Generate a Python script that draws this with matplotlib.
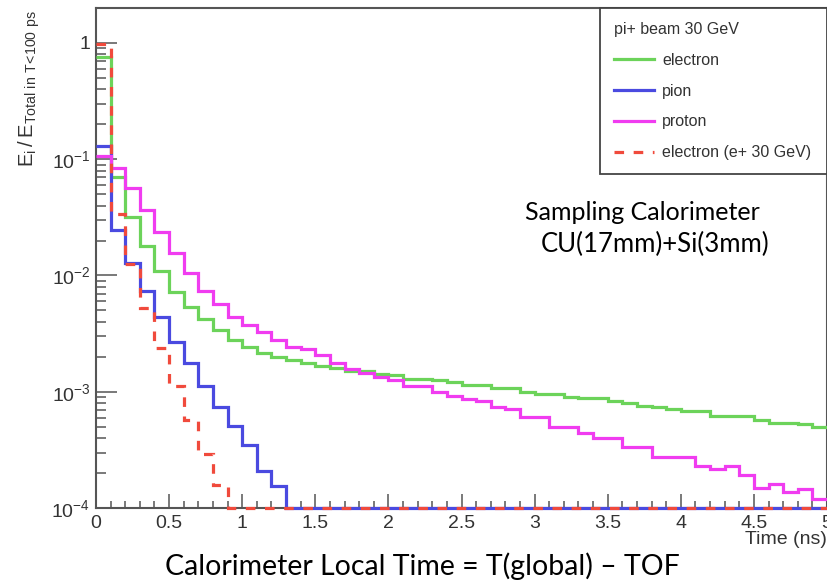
import numpy as np
import matplotlib
matplotlib.use("Agg")
import matplotlib.pyplot as plt
from matplotlib.ticker import LogLocator, MultipleLocator, NullFormatter, FuncFormatter

# energy fraction per 0.1 ns time bin, 0 - 5 ns
t_min, t_max, n_bins = 0.0, 5.0, 50

electron = [0.76, 0.0708, 0.032, 0.018, 0.011, 0.00725, 0.00532, 0.0042, 0.0034, 0.00279,
            0.00245, 0.00214, 0.00198, 0.00188, 0.00176, 0.00166, 0.00159, 0.00152, 0.00152, 0.00142,
            0.00139, 0.0013, 0.0013, 0.00126, 0.00121, 0.00114, 0.00114, 0.00107, 0.00107, 0.001,
            0.00095, 0.00095, 0.000906, 0.000879, 0.000879, 0.00084, 0.000795, 0.000754, 0.000735, 0.00071,
            0.000683, 0.000683, 0.000617, 0.000617, 0.000617, 0.000571, 0.000542, 0.000542, 0.000527, 0.0005]

pion = [0.13, 0.0246, 0.0129, 0.0074, 0.0044, 0.0027, 0.00176, 0.00112, 0.000744, 0.000507,
        0.000348, 0.000209, 0.000155] + [0.0] * 37

proton = [0.107, 0.0836, 0.0563, 0.0366, 0.0238, 0.0155, 0.0106, 0.0074, 0.00569, 0.00436,
          0.00375, 0.00329, 0.00279, 0.00245, 0.00232, 0.00207, 0.00176, 0.00156, 0.00146, 0.00133,
          0.00126, 0.00112, 0.00112, 0.001, 0.000924, 0.00086, 0.000837, 0.00074, 0.00071, 0.000603,
          0.000603, 0.0005, 0.000494, 0.000444, 0.000398, 0.000398, 0.000337, 0.000337, 0.000276, 0.000273,
          0.000275, 0.00023, 0.000215, 0.00023, 0.000192, 0.000148, 0.000161, 0.000138, 0.000145, 0.000119]

# electron response for a 30 GeV e+ beam
electron_ebeam = [0.98, 0.0338, 0.0125, 0.0053, 0.00237, 0.00112, 0.000571, 0.000292, 0.000158] + [0.0] * 41

Y_MIN, Y_MAX = 1e-4, 2.0

plt.rcParams['font.family'] = ['Liberation Sans', 'DejaVu Sans']
plt.rcParams['mathtext.fontset'] = 'custom'
plt.rcParams['mathtext.rm'] = 'Liberation Sans'

fig = plt.figure(figsize=(8.28, 5.83), dpi=100)
ax = fig.add_axes([96 / 828, 1 - 508 / 583, (827 - 96) / 828, (508 - 8) / 583])

edges = np.linspace(t_min, t_max, n_bins + 1)

def floor(vals):
    # empty bins sit on the axis minimum, as ROOT draws them
    v = np.asarray(vals, dtype=float)
    return np.where(v > 0, v, Y_MIN)

series = [
    (electron, '#6cd35a', '-', 'electron'),
    (pion, '#4a4ae0', '-', 'pion'),
    (proton, '#f03cf0', '-', 'proton'),
    (electron_ebeam, '#f04a3c', (0, (3, 3)), 'electron (e+ 30 GeV)'),
]
handles = []
for vals, col, ls, lab in series:
    h = ax.stairs(floor(vals), edges, baseline=None, color=col, lw=2.3,
                  linestyle=ls, label=lab, clip_on=False, zorder=3)
    handles.append(h)

ax.set_yscale('log')
ax.set_xlim(t_min, t_max)
ax.set_ylim(Y_MIN, Y_MAX)

ax.xaxis.set_major_locator(MultipleLocator(0.5))
ax.xaxis.set_minor_locator(MultipleLocator(0.1))
ax.xaxis.set_major_formatter(FuncFormatter(lambda x, p: '%g' % x))
ax.yaxis.set_major_locator(LogLocator(base=10))
ax.yaxis.set_minor_locator(LogLocator(base=10, subs=np.arange(2, 10)))
ax.yaxis.set_minor_formatter(NullFormatter())

def ylab(y, p):
    e = int(round(np.log10(y)))
    if e == 0:
        return '1'
    return r'$\mathregular{10^{%d}}$' % e
ax.yaxis.set_major_formatter(FuncFormatter(ylab))

axis_col = '#555555'
for s in ax.spines.values():
    s.set_color(axis_col)
    s.set_linewidth(1.5)
ax.tick_params(axis='x', which='major', direction='in', length=10, width=1.1,
               color=axis_col, labelsize=14, labelcolor='#333333', pad=5)
ax.tick_params(axis='x', which='minor', direction='in', length=5, width=1.1, color=axis_col)
ax.tick_params(axis='y', which='major', direction='in', length=15, width=1.1,
               color=axis_col, labelsize=14, labelcolor='#333333', pad=4)
ax.tick_params(axis='y', which='minor', direction='in', length=7, width=1.1, color=axis_col)

fig.text(827 / 828, 1 - 540 / 583, 'Time (ns)', ha='right', va='center',
         fontsize=14, color='#333333')
fig.text(29 / 828, 1 - 10 / 583, r'$\mathregular{E_i\,/\,E_{Total\ in\ T\!<\!100\ ps}}$',
         rotation=90, ha='center', va='top', fontsize=14.5, color='#333333')

leg = ax.legend(handles=handles, title='pi+ beam 30 GeV', loc='upper left',
                bbox_to_anchor=((600 - 96) / (827 - 96), 0, 1 - (600 - 96) / (827 - 96), 1),
                mode='expand', borderaxespad=0, fontsize=11.5, title_fontsize=11.5,
                alignment='left', handlelength=2.5, handletextpad=0.55,
                labelspacing=1.0, borderpad=0.85, fancybox=False, framealpha=1)
leg.get_frame().set_edgecolor('#444444')
leg.get_frame().set_linewidth(1.3)
for t in leg.get_texts():
    t.set_color('#333333')
leg.get_title().set_color('#333333')

fig.text(525 / 828, 1 - 212 / 583, 'Sampling Calorimeter', ha='left', va='center',
         fontsize=18, family='Lato', color='black')
fig.text(541 / 828, 1 - 244 / 583, 'CU(17mm)+Si(3mm)', ha='left', va='center',
         fontsize=18.5, family='Lato', color='black')
fig.text(422 / 828, 1 - 566 / 583, 'Calorimeter Local Time = T(global) \u2013 TOF',
         ha='center', va='center', fontsize=20.5, family='Lato', color='black')

fig.savefig('out.png', dpi=100)
